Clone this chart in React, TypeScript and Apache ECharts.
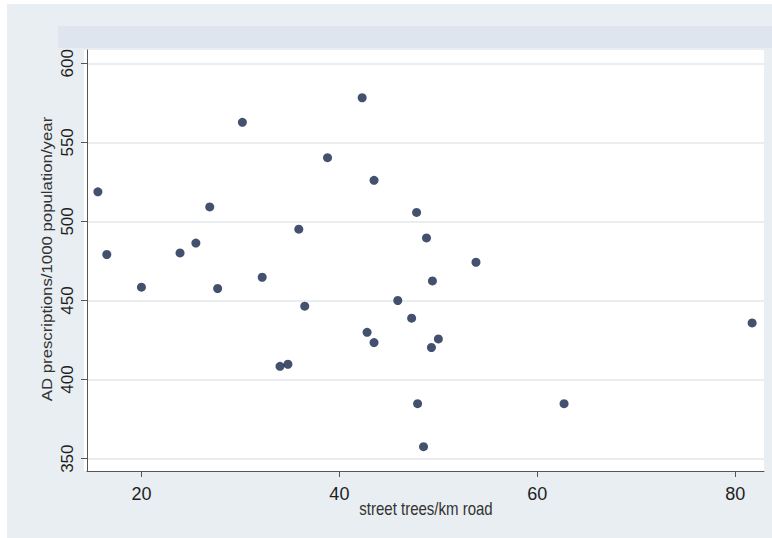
import React, { useEffect, useRef } from "react";
import * as echarts from "echarts";

// street trees per km road (x) and AD prescriptions per 1000 population per year (y)
const treesPerKm = [
  15.6, 16.5, 20.0, 23.9, 25.5, 26.9, 27.7, 30.2, 32.2, 35.9,
  36.5, 38.8, 42.3, 43.5, 47.8, 48.8, 53.8, 49.4, 45.9, 47.3,
  42.8, 43.5, 50.0, 49.3, 81.7, 47.9, 62.7, 48.5, 34.0, 34.8,
];
const adPrescriptions = [
  518.7, 479.1, 458.4, 480.1, 486.3, 509.2, 457.6, 562.7, 464.7, 495.1,
  446.4, 540.3, 578.2, 526.0, 505.7, 489.6, 474.2, 462.4, 450.0, 438.8,
  429.9, 423.4, 425.7, 420.3, 435.8, 384.8, 384.8, 357.6, 408.4, 409.7,
];
const xTicks = [20, 40, 60, 80];
const yTicks = [350, 400, 450, 500, 550, 600];
const xTitle = "street trees/km road";
const yTitle = "AD prescriptions/1000 population/year";

const FONT = "'Liberation Sans', Arial, Helvetica, sans-serif";

export default function App() {
  const ref = useRef<HTMLDivElement>(null);

  useEffect(() => {
    if (!ref.current) return;
    const chart = echarts.init(ref.current, null, { renderer: "svg" });
    const data = treesPerKm.map((x, i) => [x, adPrescriptions[i]]);

    chart.setOption({
      animation: false,
      backgroundColor: "#ffffff",
      graphic: [
        {
          type: "rect",
          z: -5,
          shape: { x: 7, y: 4, width: 765, height: 534 },
          style: { fill: "#e8eef1" },
        },
        {
          type: "rect",
          z: -4,
          shape: { x: 58, y: 26, width: 714, height: 22 },
          style: { fill: "#dfe5ee" },
        },
        {
          type: "rect",
          z: -3,
          shape: { x: 84, y: 50, width: 680, height: 421 },
          style: { fill: "#ffffff" },
        },
        {
          type: "text",
          x: 426,
          y: 509,
          scaleY: 1.25,
          style: {
            text: xTitle,
            font: `15px ${FONT}`,
            fill: "#333333",
            align: "center",
            verticalAlign: "middle",
          },
        },
        {
          type: "text",
          x: 47,
          y: 259,
          rotation: Math.PI / 2,
          scaleX: 1.12,
          style: {
            text: yTitle,
            font: `15px ${FONT}`,
            fill: "#333333",
            align: "center",
            verticalAlign: "middle",
          },
        },
      ],
      grid: {
        left: 87,
        right: 8,
        top: 50,
        bottom: 67,
        show: false,
      },
      xAxis: {
        type: "value",
        min: 14.5,
        max: 82.9,
        axisLine: { show: true, onZero: false, lineStyle: { color: "#555555", width: 1 } },
        axisTick: {
          show: true,
          customValues: xTicks,
          length: 6,
          lineStyle: { color: "#555555", width: 1 },
        },
        axisLabel: {
          customValues: xTicks,
          margin: 14,
          color: "#1e1e1e",
          fontSize: 18,
          fontFamily: FONT,
        },
        splitLine: { show: false },
      },
      yAxis: {
        type: "value",
        min: 342.2,
        max: 608.4,
        axisLine: { show: true, onZero: false, lineStyle: { color: "#555555", width: 1 } },
        axisTick: {
          show: true,
          customValues: yTicks,
          length: 6,
          lineStyle: { color: "#555555", width: 1 },
        },
        axisLabel: {
          customValues: yTicks,
          rotate: 90,
          margin: 11,
          color: "#1e1e1e",
          fontSize: 17,
          fontFamily: FONT,
        },
        splitLine: { show: true, lineStyle: { color: "#e4e8ec", width: 1.5 } },
      },
      series: [
        {
          type: "scatter",
          data,
          symbol: "circle",
          symbolSize: 9,
          itemStyle: { color: "#15254a" },
        },
      ],
    });

    return () => chart.dispose();
  }, []);

  return (
    <div
      ref={ref}
      style={{ position: "fixed", left: 0, top: 0, width: 772, height: 538 }}
    />
  );
}
